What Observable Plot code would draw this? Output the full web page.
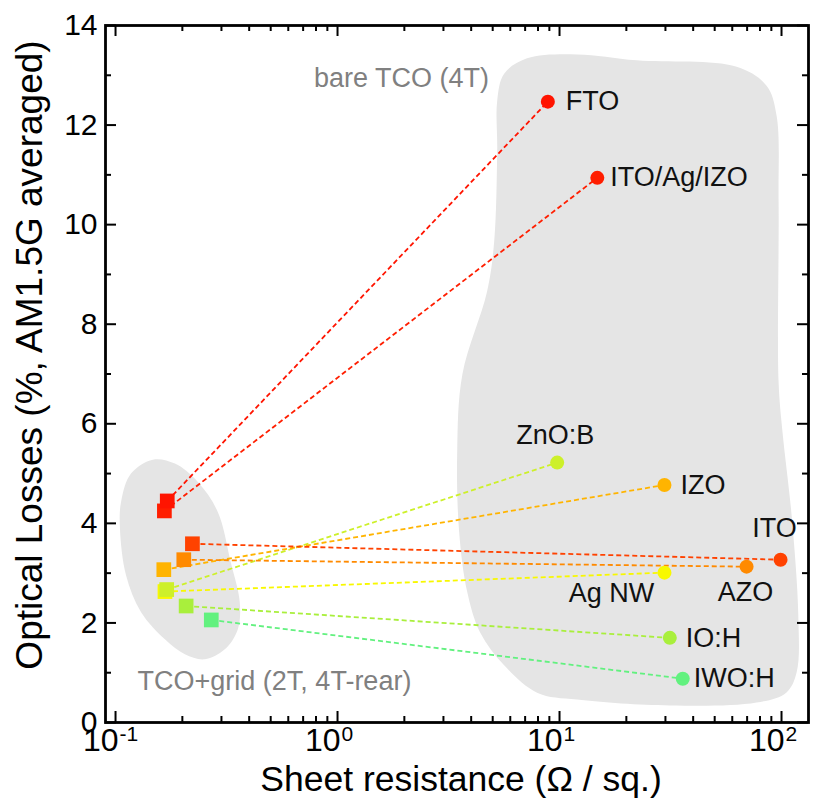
<!DOCTYPE html>
<html>
<head>
<meta charset="utf-8">
<script src="https://cdn.jsdelivr.net/npm/d3@7"></script>
<script src="https://cdn.jsdelivr.net/npm/@observablehq/plot@0.6"></script>
<style>
  html, body { margin: 0; padding: 0; background: #fff; }
  #chart svg { display: block; }
</style>
</head>
<body>
<div id="chart"></div>
<script>
// ---------- data ----------
const materials = ["FTO", "ITO/Ag/IZO", "ZnO:B", "IZO", "ITO", "AZO", "Ag NW", "IO:H", "IWO:H"];
const materialColors = ["#ff1400", "#ff1e00", "#cdf02a", "#ffb400", "#ff4200", "#ff8a00", "#f8f800", "#a9ef3c", "#62f17f"];
// bare TCO (4T): sheet resistance (Ω/sq.) and optical losses (%)
const bareResistance = [8.86, 14.8, 9.76, 29.7, 99.0, 69.6, 29.7, 31.4, 35.9];
const bareLoss       = [12.47, 10.94, 5.22, 4.77, 3.27, 3.13, 3.01, 1.70, 0.88];
// TCO + grid (2T, 4T-rear)
const gridResistance = [0.171, 0.166, 0.170, 0.165, 0.222, 0.203, 0.167, 0.208, 0.270];
const gridLoss       = [4.45, 4.25, 2.67, 3.07, 3.59, 3.27, 2.63, 2.34, 2.06];

// shaded regions (outline in data units)
const bareRegionR    = [5.63, 7.14, 11.99, 22.3, 62.8, 85.6, 95.0, 97.0, 97.0, 101, 111, 119, 117, 105, 77.2, 31.4, 12.0, 7.92, 5.63, 4.39, 3.84, 3.53, 3.46, 3.65, 4.72, 5.08, 5.24, 5.24];
const bareRegionLoss = [13.03, 13.34, 13.42, 13.30, 13.17, 12.79, 12.19, 10.48, 6.85, 5.84, 4.17, 2.16, 1.01, 0.60, 0.40, 0.34, 0.46, 0.60, 1.15, 1.81, 2.62, 3.83, 5.44, 6.99, 8.66, 9.67, 11.48, 12.49];
const gridRegionR    = [0.1474, 0.1851, 0.2349, 0.2888, 0.3304, 0.3627, 0.3553, 0.3105, 0.2524, 0.2053, 0.1669, 0.1302, 0.1115, 0.1047, 0.1059, 0.1174];
const gridRegionLoss = [5.28, 5.20, 4.83, 4.23, 3.22, 2.42, 1.87, 1.47, 1.27, 1.37, 1.67, 2.22, 2.96, 3.89, 4.43, 5.00];

const regionNames = ["bare TCO (4T)", "TCO+grid (2T, 4T-rear)"];
const regionNameR = [1.94, 0.52];
const regionNameLoss = [12.93, 0.83];

// axes
const xMajorTicks = [0.1, 1, 10, 100];
const xExponents = ["-1", "0", "1", "2"];
const xMinorTicks = [0.2, 0.3, 0.4, 0.5, 0.6, 0.7, 0.8, 0.9, 2, 3, 4, 5, 6, 7, 8, 9, 20, 30, 40, 50, 60, 70, 80, 90];
const yMajorTicks = [0, 2, 4, 6, 8, 10, 12, 14];
const yMinorTicks = [1, 3, 5, 7, 9, 11, 13];
const xTitle = "Sheet resistance (Ω / sq.)";
const yTitle = "Optical Losses (%, AM1.5G averaged)";

// ---------- build tables ----------
const rows = materials.map((m, i) => ({
  name: m, color: materialColors[i],
  r: bareResistance[i], loss: bareLoss[i],
  gr: gridResistance[i], gloss: gridLoss[i]
}));
const squaresOrder = rows.slice().reverse();
const bareRegion = bareRegionR.map((r, i) => ({r, loss: bareRegionLoss[i]}));
const gridRegion = gridRegionR.map((r, i) => ({r, loss: gridRegionLoss[i]}));
const regionLabels = regionNames.map((t, i) => ({t, r: regionNameR[i], loss: regionNameLoss[i]}));

// label placement (styling)
const place = {
  "FTO":        {dx: 18, dy: 0, a: "start"},
  "ITO/Ag/IZO": {dx: 13, dy: 0, a: "start"},
  "ZnO:B":      {dx: -2, dy: -27, a: "middle"},
  "IZO":        {dx: 16, dy: 0, a: "start"},
  "ITO":        {dx: -6, dy: -31, a: "middle"},
  "AZO":        {dx: -1, dy: 26, a: "middle"},
  "Ag NW":      {dx: -53, dy: 21, a: "middle"},
  "IO:H":       {dx: 16, dy: 0, a: "start"},
  "IWO:H":      {dx: 11, dy: 0, a: "start"}
};
const labelMarks = rows.map(d => Plot.text([d], {
  x: "r", y: "loss", text: "name",
  dx: place[d.name].dx, dy: place[d.name].dy, textAnchor: place[d.name].a,
  fontSize: 27, fill: "#111"
}));

const W = 815, H = 808, mL = 105, mR = 7, mT = 25, mB = 86;
const frameW = W - mL - mR, frameH = H - mT - mB;
const major = 11, minor = 6;

const chart = Plot.plot({
  width: W, height: H,
  marginLeft: mL, marginRight: mR, marginTop: mT, marginBottom: mB,
  style: {fontFamily: "'Liberation Sans', Arial, sans-serif", fontSize: "30px", color: "#000", background: "#fff"},
  x: {type: "log", domain: [0.09012, 132.3], axis: null},
  y: {domain: [0, 14], axis: null},
  color: {type: "identity"},
  marks: [
    Plot.line(bareRegion, {x: "r", y: "loss", curve: "catmull-rom-closed", fill: "#e5e5e5", stroke: "none"}),
    Plot.line(gridRegion, {x: "r", y: "loss", curve: "catmull-rom-closed", fill: "#e5e5e5", stroke: "none"}),
    Plot.text(regionLabels, {x: "r", y: "loss", text: "t", fill: "#808080", fontSize: 27}),
    Plot.link(rows, {x1: "gr", y1: "gloss", x2: "r", y2: "loss", stroke: "color", strokeWidth: 1.8, strokeDasharray: "5,3"}),
    Plot.dot(squaresOrder, {x: "gr", y: "gloss", fill: "color", symbol: "square", r: 8.3, stroke: "none"}),
    Plot.dot(rows, {x: "r", y: "loss", fill: "color", r: 7, stroke: "none"}),
    ...labelMarks,
    // ticks (inward, mirrored)
    Plot.tickX(xMajorTicks, {x: d => d, insetTop: frameH - major, strokeWidth: 2}),
    Plot.tickX(xMinorTicks, {x: d => d, insetTop: frameH - minor, strokeWidth: 2}),
    Plot.tickX(xMajorTicks, {x: d => d, insetBottom: frameH - major, strokeWidth: 2}),
    Plot.tickX(xMinorTicks, {x: d => d, insetBottom: frameH - minor, strokeWidth: 2}),
    Plot.tickY(yMajorTicks, {y: d => d, insetRight: frameW - major, strokeWidth: 2}),
    Plot.tickY(yMinorTicks, {y: d => d, insetRight: frameW - minor, strokeWidth: 2}),
    Plot.tickY(yMajorTicks, {y: d => d, insetLeft: frameW - major, strokeWidth: 2}),
    Plot.tickY(yMinorTicks, {y: d => d, insetLeft: frameW - minor, strokeWidth: 2}),
    Plot.frame({stroke: "#000", strokeWidth: 2.8}),
    // tick labels
    Plot.text(yMajorTicks, {y: d => d, text: d => String(d), frameAnchor: "left", dx: -8, textAnchor: "end", fontSize: 30}),
    Plot.text(xMajorTicks, {x: d => d, text: () => "10", frameAnchor: "bottom", dy: 28, dx: 3, textAnchor: "end", fontSize: 32}),
    Plot.text(xMajorTicks, {x: d => d, text: (d, i) => xExponents[i], frameAnchor: "bottom", dy: 18, dx: 4, textAnchor: "start", fontSize: 21}),
    // titles
    Plot.text([xTitle], {text: d => d, frameAnchor: "bottom", dy: 68, dx: 4, fontSize: 35.5}),
    Plot.text([yTitle], {text: d => d, frameAnchor: "left", textAnchor: "middle", dx: -75, dy: -19, rotate: -90, fontSize: 37})
  ]
});
document.getElementById("chart").appendChild(chart);
</script>
</body>
</html>
